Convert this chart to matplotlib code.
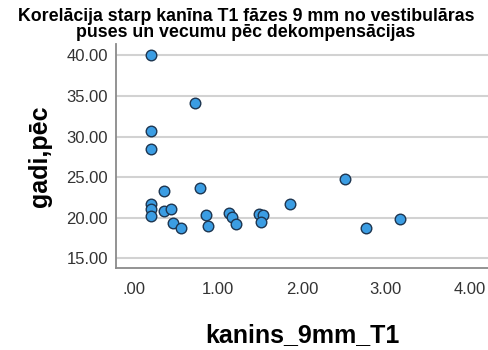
import matplotlib
matplotlib.use("Agg")
import matplotlib.pyplot as plt

plt.rcParams['font.family'] = ['Liberation Sans', 'DejaVu Sans']

# kanins_9mm_T1 un gadi,pēc katram pacientam
kanins = [0.20, 0.72, 0.20, 0.20, 0.36, 0.78, 0.20, 0.20, 0.20, 0.36,
          0.44, 0.46, 0.56, 0.86, 0.88, 1.13, 1.17, 1.21, 1.49, 1.54,
          1.51, 1.86, 2.51, 2.76, 3.17]
gadi = [40.0, 34.1, 30.7, 28.4, 23.25, 23.65, 21.7, 21.0, 20.2, 20.8,
        21.0, 19.3, 18.7, 20.3, 19.0, 20.6, 20.1, 19.2, 20.4, 20.3,
        19.5, 21.65, 24.8, 18.7, 19.8]

x_ticks = [0, 1, 2, 3, 4]
x_labels = ['.00', '1.00', '2.00', '3.00', '4.00']
y_ticks = [15, 20, 25, 30, 35, 40]
y_labels = ['15.00', '20.00', '25.00', '30.00', '35.00', '40.00']

fig = plt.figure(figsize=(4.88, 3.5), dpi=100)
fig.patch.set_facecolor('white')
ax = fig.add_axes([0.238, 0.234, 0.762, 0.640])

ax.scatter(kanins, gadi, s=58, color='#3b9de3', edgecolor='#1d3550',
           linewidth=1.0, zorder=3)

ax.set_xlim(-0.215, 4.22)
ax.set_ylim(13.77, 41.4)
ax.set_xticks(x_ticks)
ax.set_xticklabels(x_labels)
ax.set_yticks(y_ticks)
ax.set_yticklabels(y_labels)
ax.tick_params(length=0, labelsize=12, labelcolor='#333333')
ax.tick_params(axis='x', pad=10)
ax.tick_params(axis='y', pad=6)

ax.yaxis.grid(True, color='#d2d2d2', linewidth=1.5, zorder=0)
ax.set_axisbelow(True)
for side in ['top', 'right']:
    ax.spines[side].set_visible(False)
for side in ['left', 'bottom']:
    ax.spines[side].set_color('#8a8a8a')
    ax.spines[side].set_linewidth(1.3)

ax.set_xlabel('kanins_9mm_T1', fontsize=18, fontweight='bold', labelpad=19)
ax.set_ylabel('gadi,pēc', fontsize=18, fontweight='bold', labelpad=10)

fig.text(0.504, 1 - 8 / 350,
         'Korelācija starp kanīna T1 fāzes 9 mm no vestibulāras\n'
         'puses un vecumu pēc dekompensācijas',
         ha='center', va='top', fontsize=12.8, fontweight='bold',
         linespacing=0.92)

fig.savefig('out.png', dpi=100)
